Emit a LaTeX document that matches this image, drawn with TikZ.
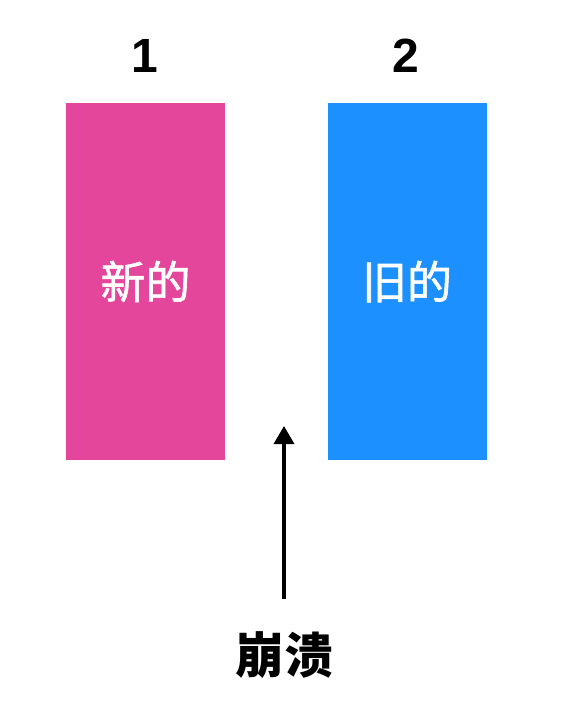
\documentclass[tikz,border=0pt]{standalone}
\usepackage{xcolor}
\usepackage{fontspec}
\setmainfont{Liberation Sans}
\newfontfamily\cjk{Noto Sans CJK SC}
\newfontfamily\cjkmid[FakeBold=1.3]{Noto Sans CJK SC}
\usetikzlibrary{arrows.meta,positioning}
\definecolor{newpink}{HTML}{E3469A}
\definecolor{oldblue}{HTML}{1C90FF}
\begin{document}
\begin{tikzpicture}[x=1pt,y=-1pt]
\tikzstyle{block}=[minimum width=159pt,minimum height=357pt,inner sep=0pt,text=white,font=\cjkmid\fontsize{45}{50}\selectfont]
\tikzstyle{num}=[inner sep=0pt,font=\bfseries\fontsize{48}{52}\selectfont]
\useasboundingbox (0,0) rectangle (562,715);
\node[block,fill=newpink] (new) at (145.5,281.5) {新的};
\node[block,fill=oldblue] (old) at (407,281.5) {旧的};
\node[num] (one) at (145,56) {1};
\node[num] (two) at (406,56) {2};
\node[inner sep=0pt,font=\cjk\bfseries\fontsize{49}{52}\selectfont] (crash) at (284,655) {崩溃};
\coordinate (tail) at (284,599);
\coordinate (tip) at (284,426);
\draw[line width=3.5pt,-{Triangle[width=20pt,length=18pt]}] (tail) -- (tip);
\end{tikzpicture}
\end{document}
